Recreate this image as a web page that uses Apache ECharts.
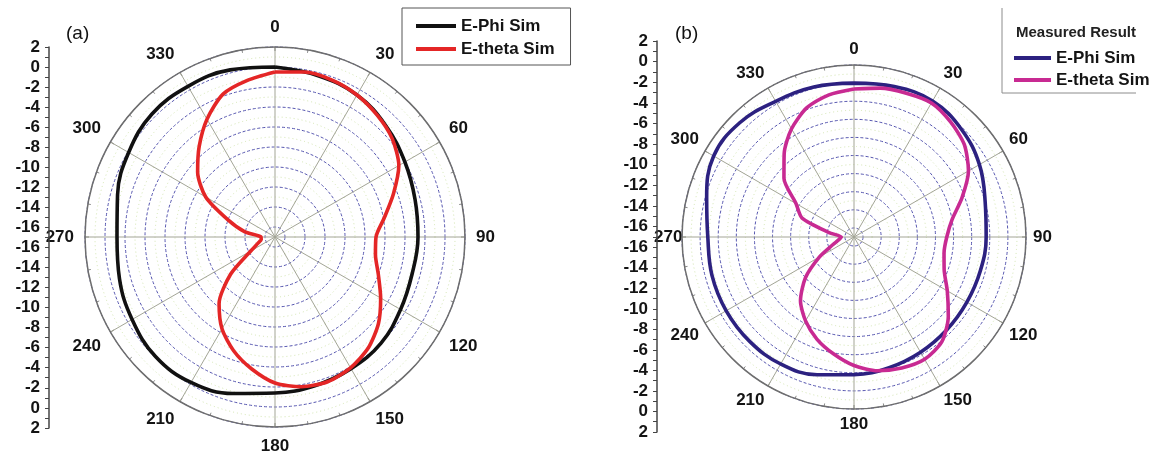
<!DOCTYPE html>
<html>
<head>
<meta charset="utf-8">
<script src="https://cdn.jsdelivr.net/npm/echarts@6/dist/echarts.min.js"></script>
<style>
html,body{margin:0;padding:0;background:#fff;}
#c{width:1156px;height:458px;}
</style>
</head>
<body>
<div id="c"></div>
<script>
// ---- data (dB vs angle in degrees) ----
const anglesPhi = [0,15,30,45,60,75,90,105,120,135,150,165,180,195,210,225,240,255,270,285,300,315,330,345,360];
const anglesTheta = [0,10,20,30,40,50,60,70,80,90,100,110,120,130,140,150,160,170,180,190,200,210,220,230,240,250,260,270,280,290,300,310,320,330,340,350,360];

// (a) simulated
const phiA = [0,-0.3,-0.6,-1.3,-2.0,-2.5,-2.7,-2.8,-2.5,-2.0,-1.8,-1.6,-1.4,-0.8,-0.2,-0.1,-0.5,-0.9,-1.2,-0.7,-0.1,0.4,0.4,0.3,0];
const thetaA = [-0.5,-0.25,-0.3,-0.6,-1.1,-1.7,-2.7,-4.4,-5.9,-6.9,-6.8,-6.0,-4.8,-3.5,-2.5,-1.9,-1.6,-1.8,-2.4,-3.6,-4.9,-6.4,-8.3,-11.2,-14.2,-15.2,-15.6,-15.6,-13.9,-12.0,-9.0,-6.9,-5.2,-3.4,-1.8,-1.1,-0.5];

// (b) measured
const phiB = [0,0.2,0.35,-0.2,-1.0,-2.0,-2.4,-2.55,-2.6,-2.5,-2.3,-2.05,-1.8,-1.25,-0.8,-0.7,-0.7,-0.75,-0.85,-0.15,0.9,0.85,0.3,0.15,0];
const thetaB = [-0.65,-0.3,-0.1,0.1,-0.4,-1.1,-2.4,-4.3,-6.0,-6.75,-6.9,-6.4,-5.1,-3.4,-1.9,-1.4,-1.6,-2.0,-2.8,-3.9,-5.0,-6.3,-7.8,-10.0,-12.6,-14.5,-15.3,-15.6,-14.2,-10.9,-9.6,-6.9,-5.0,-3.2,-1.8,-1.05,-0.65];

const angleTicks = [0,30,60,90,120,150,180,210,240,270,300,330];
const rMin = -17, rMax = 2;

const seriesNames = ['E-Phi Sim','E-theta Sim'];
const colorsA = ['#111111','#e42626'];
const colorsB = ['#2c2180','#c82a92'];

// ---- helpers ----
const FONT = "'Liberation Sans', Arial, sans-serif";
const pairs = (vals, angs) => vals.map((v,i)=>[v, angs[i]]);

function angleAxis(idx){
  return {
    polarIndex: idx, type:'value', min:0, max:360, interval:30,
    startAngle:90, clockwise:true,
    axisLine:{show:true, lineStyle:{color:'#6e6e6e', width:1.5}},
    axisTick:{show:true, inside:true, length:4, lineStyle:{color:'#6e6e6e'}},
    minorTick:{show:true, splitNumber:3, length:3, lineStyle:{color:'#8a8a8a'}},
    axisLabel:{show:true, margin: idx===0 ? 11 : 7, fontSize:17, fontWeight:'bold', fontFamily:FONT, color:'#141414',
      formatter:v => {
        if (angleTicks.indexOf(v) < 0) return '';
        if (idx === 1 && v === 270) return '{s|' + v + '}';
        return String(v);
      },
      rich:{s:{width:21, align:'left', fontSize:17, fontWeight:'bold', fontFamily:FONT, color:'#141414'}}
    },
    splitLine:{show:true, lineStyle:{color:'#a3a596', width:1}}
  };
}
function radiusAxis(idx){
  return {
    polarIndex: idx, type:'value', min:rMin, max:rMax, splitNumber:10,
    axisLine:{show:false}, axisTick:{show:false}, axisLabel:{show:false},
    splitLine:{show:true, lineStyle:{color:'#5656b0', width:1, type:[3,2]}},
    minorTick:{show:false, splitNumber:2},
    minorSplitLine:{show:true, lineStyle:{color:'#d3e6b0', width:1, type:[1,3]}}
  };
}
function scaleY(gridIdx, inverse){
  return {
    gridIndex:gridIdx, type:'value', min:rMin, max:rMax, interval:1, inverse:inverse,
    position:'left',
    axisLine:{show:true, lineStyle:{color:'#444', width:1.5}},
    axisTick:{show:true, length:4, lineStyle:{color:'#444'}},
    axisLabel:{show:true, margin:9, fontSize:17, fontWeight:'bold', fontFamily:FONT, color:'#141414',
      formatter:v => (v % 2 === 0 && v !== rMin) ? String(v) : ''},
    splitLine:{show:false}
  };
}
function lineSeries(name, polarIdx, vals, angs, color, smooth, z){
  return {
    name:name, type:'line', coordinateSystem:'polar', polarIndex:polarIdx,
    data:pairs(vals, angs), smooth:smooth, symbol:'none', z:z,
    lineStyle:{color:color, width:3.6}, itemStyle:{color:color}, animation:false
  };
}

const option = {
  backgroundColor:'#ffffff',
  animation:false,
  title:[
    {text:'(a)', left:61, top:19, textStyle:{fontSize:19, fontWeight:'normal', fontFamily:FONT, color:'#111'}},
    {text:'(b)', left:670, top:19, textStyle:{fontSize:19, fontWeight:'normal', fontFamily:FONT, color:'#111'}},
    {text:'Measured Result', left:1011, top:20, textStyle:{fontSize:15, fontWeight:'bold', fontFamily:"'Liberation Sans Narrow', 'Liberation Sans', Arial, sans-serif", color:'#222'}}
  ],
  legend:[
    {
      orient:'vertical', left:402, top:8, padding:[9,16,7,14],
      borderColor:'#555', borderWidth:1,
      icon:'rect', itemWidth:40, itemHeight:4, itemGap:5,
      textStyle:{fontSize:17, fontWeight:'bold', fontFamily:FONT, color:'#141414', lineHeight:18},
      selectedMode:false,
      data:[
        {name:seriesNames[0], itemStyle:{color:colorsA[0]}},
        {name:seriesNames[1], itemStyle:{color:colorsA[1]}}
      ]
    },
    {
      orient:'vertical', left:1014, top:49, padding:0,
      icon:'rect', itemWidth:37, itemHeight:4, itemGap:4,
      textStyle:{fontSize:17, fontWeight:'bold', fontFamily:FONT, color:'#141414', lineHeight:18},
      selectedMode:false,
      data:[
        {name:seriesNames[0], itemStyle:{color:colorsB[0]}},
        {name:seriesNames[1], itemStyle:{color:colorsB[1]}}
      ]
    }
  ],
  graphic:[
    {type:'line', shape:{x1:1002, y1:8, x2:1002, y2:93}, style:{stroke:'#8c8c8c', lineWidth:1}},
    {type:'line', shape:{x1:1002, y1:93, x2:1136, y2:93}, style:{stroke:'#8c8c8c', lineWidth:1}}
  ],
  polar:[
    {center:[275,237], radius:190},
    {center:[854,237], radius:172}
  ],
  angleAxis:[angleAxis(0), angleAxis(1)],
  radiusAxis:[radiusAxis(0), radiusAxis(1)],
  grid:[
    {left:49, top:47, width:1, height:190},
    {left:49, top:237, width:1, height:191},
    {left:657, top:41, width:1, height:196},
    {left:657, top:237, width:1, height:195}
  ],
  xAxis:[0,1,2,3].map(i=>({gridIndex:i, type:'value', show:false})),
  yAxis:[scaleY(0,false), scaleY(1,true), scaleY(2,false), scaleY(3,true)],
  series:[
    lineSeries(seriesNames[0], 0, phiA, anglesPhi, colorsA[0], 0.4, 3),
    lineSeries(seriesNames[1], 0, thetaA, anglesTheta, colorsA[1], 0.25, 4),
    lineSeries(seriesNames[0], 1, phiB, anglesPhi, colorsB[0], 0.4, 3),
    lineSeries(seriesNames[1], 1, thetaB, anglesTheta, colorsB[1], 0.25, 4)
  ]
};

const chart = echarts.init(document.getElementById('c'), null, {renderer:'canvas'});
chart.setOption(option);
</script>
</body>
</html>
